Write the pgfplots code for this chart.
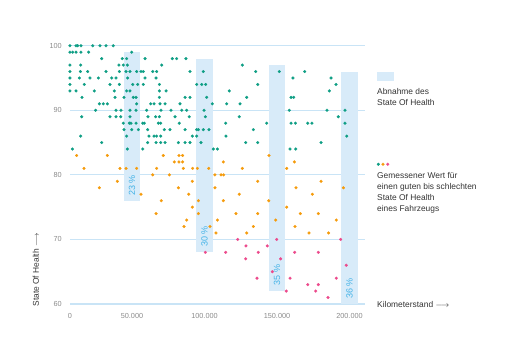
\documentclass[border=0pt]{standalone}
\usepackage{fontspec}
\setmainfont{Liberation Sans}
\usepackage{pgfplots}
\pgfplotsset{compat=1.18}
\definecolor{gridblue}{HTML}{C9E4F6}
\definecolor{barblue}{HTML}{D8EBF9}
\definecolor{pctblue}{HTML}{45B3E7}
\definecolor{dotgreen}{HTML}{0E9E84}
\definecolor{dotorange}{HTML}{F59B0B}
\definecolor{dotpink}{HTML}{EC4A8C}
\definecolor{tickgray}{HTML}{8A8A8A}
\definecolor{txt}{HTML}{333333}
\begin{document}
\begin{tikzpicture}
\begin{axis}[
  at={(0pt,0pt)}, anchor=south west,
  scale only axis, width=295pt, height=258.3pt,
  xmin=7240, xmax=210700, ymin=60, ymax=100,
  clip=false,
  axis line style={draw=none},
  major tick length=0pt,
  scaled x ticks=false, scaled y ticks=false,
  ymajorgrids, major grid style={gridblue, line width=1.2pt},
  ytick={60,70,80,90,100}, yticklabels={60,70,80,90,100},
  xtick={7240,50000,100000,150000,200000},
  xticklabels={0,50.000,100.000,150.000,200.000},
  ticklabel style={font=\fontsize{7.3}{8}\selectfont, text=tickgray, inner sep=0pt},
  yticklabel style={xshift=-8pt},
  xticklabel style={yshift=-9.5pt},
  mark size=1.45pt,
]
% bars: decrease of State Of Health
\addplot[fill=barblue, draw=none] coordinates {(44150,76) (55850,76) (55850,99) (44150,99)} --cycle;
\addplot[fill=barblue, draw=none] coordinates {(94150,68) (105850,68) (105850,98) (94150,98)} --cycle;
\addplot[fill=barblue, draw=none] coordinates {(144150,62) (155850,62) (155850,97) (144150,97)} --cycle;
\addplot[fill=barblue, draw=none] coordinates {(194150,60) (205850,60) (205850,96) (194150,96)} --cycle;
% legend swatch
\addplot[fill=barblue, draw=none] coordinates {(219000,94.54) (230700,94.54) (230700,95.93) (219000,95.93)} --cycle;

% green
\addplot[only marks, mark=*, dotgreen, line width=0.2pt] coordinates {
(7200,100) (11400,100) (12500,100) (14800,100) (22900,100) (27900,100) (32100,100) (37100,100)
(7200,99) (9100,99) (11400,99) (14800,99) (20100,99) (49800,99)
(29100,98) (43300,98) (46300,98) (59000,98) (77800,98) (80800,98) (87200,98)
(7200,97) (14600,97) (41000,97) (44000,97) (46800,97) (70500,97) (126100,97)
(7200,96) (14400,96) (19400,96) (32100,96) (41300,96) (45900,96) (48600,96) (53200,96) (56200,96) (57800,96) (64300,96) (67000,96) (90000,96) (99200,96) (135300,96) (151600,96) (169100,96)
(7200,95) (13700,95) (21000,95) (26800,95) (36000,95) (39000,95) (47000,95) (59000,95) (66600,95) (161000,95) (187300,95)
(7200,94) (17100,94) (34800,94) (41300,94) (50500,94) (53900,94) (57800,94) (68900,94) (94600,94) (98100,94) (100800,94) (136700,94) (190700,94)
(7200,93) (11400,93) (24000,93) (37800,93) (46300,93) (48600,93) (68900,93) (73500,93) (117100,93) (186100,93)
(15500,92) (38300,92) (44500,92) (50900,92) (52800,92) (68900,92) (86600,92) (90000,92) (101500,92) (129100,92) (159700,92) (161500,92)
(27500,91) (30200,91) (33000,91) (53200,91) (62900,91) (65200,91) (69300,91) (72800,91) (83100,91) (105400,91) (115300,91) (124500,91)
(24900,90) (39000,90) (42400,90) (48600,90) (52800,90) (60100,90) (70000,90) (76900,90) (84300,90) (87700,90) (99700,90) (158500,90) (184500,90) (196900,90)
(15300,89) (34800,89) (39000,89) (42200,89) (48600,89) (61000,89) (66300,89) (68900,89) (79700,89) (89500,89) (100600,89) (124000,89) (192300,89)
(44000,88) (48200,88) (49300,88) (52800,88) (57400,88) (58500,88) (68200,88) (69800,88) (82600,88) (114600,88) (142900,88) (159700,88) (162700,88) (171200,88) (174100,88) (196900,88)
(44500,87) (49800,87) (54400,87) (60800,87) (72300,87) (76200,87) (86600,87) (94600,87) (95800,87) (99200,87) (103100,87) (133700,87)
(14600,86) (46300,86) (61700,86) (65200,86) (67000,86) (69800,86) (91600,86) (94600,86) (114800,86) (198100,86)
(29100,85) (60800,85) (66600,85) (69800,85) (72800,85) (82000,85) (86600,85) (90000,85) (97600,85) (128400,85) (136700,85) (180400,85)
(8900,84) (46800,84) (57400,84) (106100,84) (108900,84) (159000,84) (162900,84)
};
% orange
\addplot[only marks, mark=*, dotorange, line width=0.2pt] coordinates {
(11800,83) (33000,83) (71600,83) (82400,83) (84900,83) (144500,83)
(79200,82) (82400,82) (84900,82) (113000,82) (162000,82)
(16900,81) (41700,81) (45900,81) (53200,81) (67000,81) (85400,81) (91800,81) (95100,81) (102900,81) (126100,81) (156700,81)
(64300,80) (75800,80) (107200,80) (111400,80) (113200,80)
(39900,79) (91600,79) (136700,79) (180400,79)
(27500,78) (82000,78) (107200,78) (163100,78) (195800,78)
(56200,77) (89100,77) (124000,77) (174400,77)
(70200,76) (95800,76) (113000,76) (144300,76)
(91600,75) (156700,75)
(66600,74) (95800,74) (121700,74) (136700,74) (166100,74) (178500,74)
(87700,73) (108900,73) (149100,73) (190900,73)
(85900,72) (103800,72) (133700,72) (162400,72)
(107900,71) (129100,71) (172100,71) (185600,71)
};
% pink
\addplot[only marks, mark=*, dotpink, line width=0.2pt] coordinates {
(122900,70) (149800,70) (193900,70)
(128600,69) (143300,69)
(100600,68) (114600,68) (137100,68) (162200,68) (178500,68)
(128400,67) (152500,67)
(197800,66)
(146800,65)
(136200,64) (159000,64) (190900,64)
(171200,63) (178500,63)
(156400,62) (176700,62)
(185200,61)
};
% legend dots
\addplot[only marks, mark=*, dotgreen, line width=0.2pt] coordinates {(219900,81.64)};
\addplot[only marks, mark=*, dotorange, line width=0.2pt] coordinates {(223100,81.64)};
\addplot[only marks, mark=*, dotpink, line width=0.2pt] coordinates {(226400,81.64)};

% percentage labels
\node[rotate=90, anchor=west, inner sep=0pt, text=pctblue, font=\fontsize{9}{10}\selectfont] at (axis cs:50000,76.75) {23 \%};
\node[rotate=90, anchor=west, inner sep=0pt, text=pctblue, font=\fontsize{9}{10}\selectfont] at (axis cs:100000,68.85) {30 \%};
\node[rotate=90, anchor=west, inner sep=0pt, text=pctblue, font=\fontsize{9}{10}\selectfont] at (axis cs:150000,62.9) {35 \%};
\node[rotate=90, anchor=west, inner sep=0pt, text=pctblue, font=\fontsize{9}{10}\selectfont] at (axis cs:200000,60.8) {36 \%};
\end{axis}

% texts outside the plot
\begin{scope}[every node/.style={inner sep=0pt, text=txt, font=\fontsize{8.4}{10}\selectfont, anchor=base west}]
\node at (307pt,209.3pt) {Abnahme des};
\node at (307pt,198.7pt) {State Of Health};
\node at (307pt,126pt) {Gemessener Wert für};
\node at (307pt,114.7pt) {einen guten bis schlechten};
\node at (307pt,104pt) {State Of Health};
\node at (307pt,92.5pt) {eines Fahrzeugs};
\node at (307pt,-3pt) {Kilometerstand $\longrightarrow$};
\node[rotate=90] at (-31pt,-2.7pt) {State Of Health $\longrightarrow$};
\end{scope}

\pgfresetboundingbox
\path[use as bounding box] (-70pt,-56pt) rectangle (441pt,304pt);
\end{tikzpicture}
\end{document}
